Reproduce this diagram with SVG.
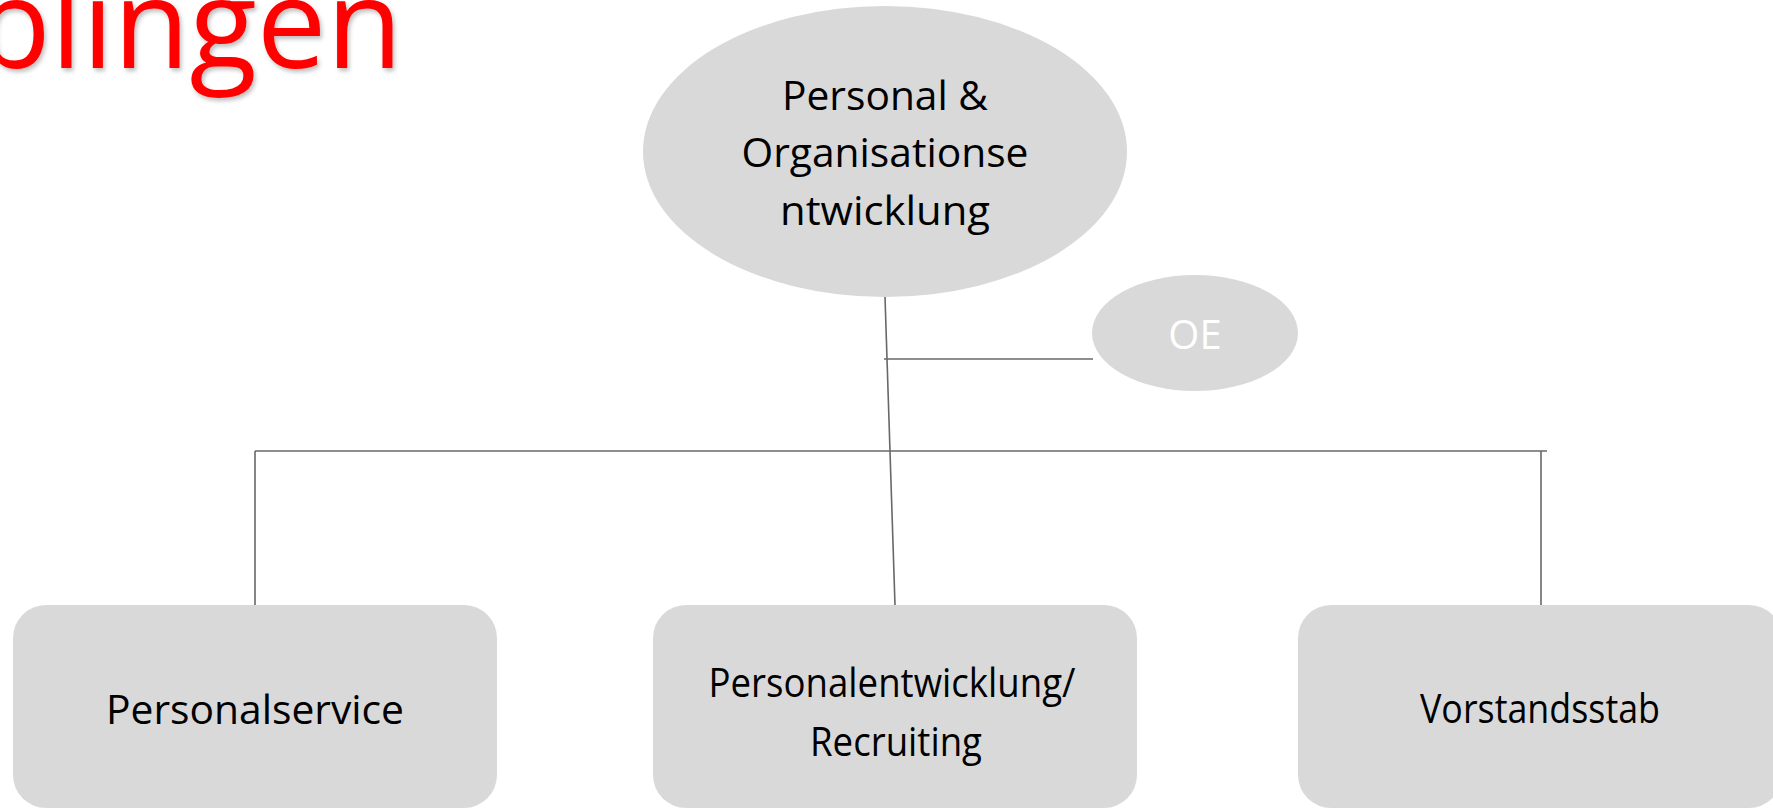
<svg xmlns="http://www.w3.org/2000/svg" width="1773" height="809" viewBox="0 0 1773 809">
<defs>
<filter id="sh" x="-10%" y="-10%" width="120%" height="130%"><feDropShadow dx="2" dy="3" stdDeviation="2" flood-color="#000" flood-opacity="0.25"/></filter>
</defs>
<style>
.shape{fill:#d9d9d9;stroke:none}
.lbl{font-family:"Open Sans","Noto Sans",sans-serif;font-size:40px;fill:#000;text-anchor:middle}
.conn{stroke:#686868;stroke-width:1.6;fill:none}
</style>
<rect width="1773" height="809" fill="#fff"/>
<text x="-25" y="68" font-family="'Open Sans','Noto Sans',sans-serif" font-size="124" fill="#ff0000" filter="url(#sh)">blingen</text>
<g id="connectors">
<line class="conn" x1="885" y1="297" x2="895" y2="605"/>
<line class="conn" x1="884" y1="359" x2="1093" y2="359"/>
<line class="conn" x1="255" y1="451" x2="1547" y2="451"/>
<line class="conn" x1="255" y1="451" x2="255" y2="605"/>
<line class="conn" x1="1541" y1="451" x2="1541" y2="605"/>
</g>
<g id="node-top">
<ellipse class="shape" cx="885" cy="151.5" rx="242" ry="145.5"/>
<text class="lbl" x="885" y="110" textLength="206" lengthAdjust="spacingAndGlyphs">Personal &amp;</text>
<text class="lbl" x="885" y="167" textLength="287" lengthAdjust="spacingAndGlyphs">Organisationse</text>
<text class="lbl" x="885" y="225" textLength="210" lengthAdjust="spacingAndGlyphs">ntwicklung</text>
</g>
<g id="node-oe">
<ellipse class="shape" cx="1195" cy="333" rx="103" ry="58"/>
<text class="lbl" x="1195" y="349" style="fill:#fff">OE</text>
</g>
<g id="node-personalservice">
<rect class="shape" x="13" y="605" width="484" height="203" rx="33"/>
<text class="lbl" x="255" y="724" textLength="298" lengthAdjust="spacingAndGlyphs">Personalservice</text>
</g>
<g id="node-pe">
<rect class="shape" x="653" y="605" width="484" height="203" rx="33"/>
<text class="lbl" x="892" y="697" textLength="367" lengthAdjust="spacingAndGlyphs">Personalentwicklung/</text>
<text class="lbl" x="896" y="756" textLength="172" lengthAdjust="spacingAndGlyphs">Recruiting</text>
</g>
<g id="node-vorstandsstab">
<rect class="shape" x="1298" y="605" width="484" height="203" rx="33"/>
<text class="lbl" x="1540" y="723" textLength="240" lengthAdjust="spacingAndGlyphs">Vorstandsstab</text>
</g>
</svg>
